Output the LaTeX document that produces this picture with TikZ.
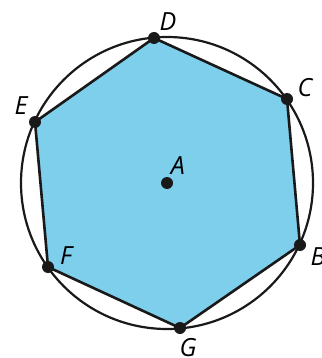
\documentclass[tikz,border=0pt]{standalone}
\usepackage{fontspec}
\setmainfont{Open Sans}
\definecolor{hexblue}{RGB}{126,207,235}
\tikzset{dot/.style={circle,fill=black!90,inner sep=0pt,minimum size=12pt},
  lbl/.style={font=\itshape\fontsize{25}{25}\selectfont,inner sep=0pt}}
\begin{document}
\begin{tikzpicture}[x=1pt,y=-1pt]
  \useasboundingbox (0,0) rectangle (321,358);
  \coordinate (A) at (167,183); \coordinate (B) at (300,245); \coordinate (C) at (287,99);
  \coordinate (D) at (154,38); \coordinate (E) at (35,122); \coordinate (F) at (48,267); \coordinate (G) at (180,328);
  \draw[line width=2.2pt,black!90] (A) circle (146);
  \filldraw[fill=hexblue,draw=black!90,line width=2.6pt,line join=round] (B)--(C)--(D)--(E)--(F)--(G)--cycle;
  \foreach \p in {A,B,C,D,E,F,G} {\node[dot] (d\p) at (\p) {};}
  \node[lbl] (lA) at (178,166) {A}; \node[lbl] (lB) at (318,257) {B}; \node[lbl] (lC) at (305,88) {C};
  \node[lbl] (lD) at (168,22) {D}; \node[lbl] (lE) at (21,106) {E}; \node[lbl] (lF) at (66,256) {F};
  \node[lbl] (lG) at (188,348) {G};
\end{tikzpicture}
\end{document}
